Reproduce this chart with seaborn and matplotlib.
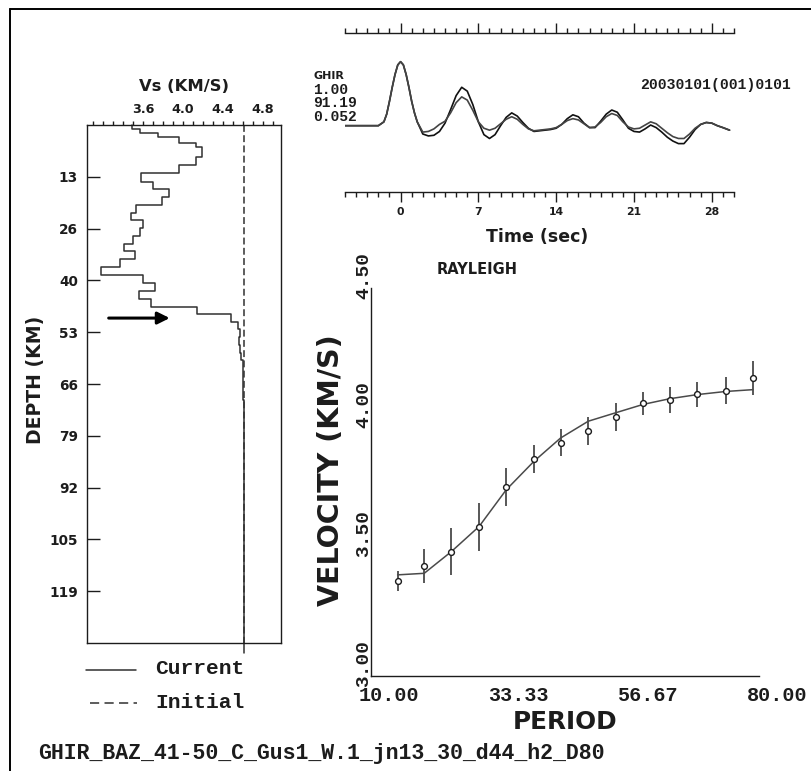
import numpy as np
import pandas as pd
import matplotlib
matplotlib.use("Agg")
import matplotlib.pyplot as plt
import matplotlib.transforms as mtransforms
from matplotlib.lines import Line2D
import seaborn as sns

# ---------------- data ----------------
# Current shear-velocity model: layer tops / bottoms (km) and Vs (km/s)
layer_top = [0.0, 1.1, 2.1, 3.1, 4.7, 5.5, 8.2, 10.2, 12.3, 14.4,
             16.4, 18.3, 20.4, 22.3, 24.2, 26.3, 28.2, 30.2, 32.2, 34.1,
             36.1, 38.1, 40.3, 42.4, 44.4, 46.3, 48.2, 50.1, 52.0, 54.0,
             56.0, 58.0, 60.0, 64.0, 70.0, 82.0]
layer_bottom = layer_top[1:] + [134.5]
vs_current = [3.49, 3.567, 3.75, 3.96, 4.127, 4.194, 4.134, 3.96, 3.584, 3.70,
              3.86, 3.794, 3.534, 3.484, 3.60, 3.567, 3.50, 3.41, 3.52, 3.37,
              3.18, 3.60, 3.717, 3.56, 3.68, 4.14, 4.48, 4.545, 4.57, 4.555,
              4.565, 4.58, 4.595, 4.60, 4.605, 4.61]
# Initial model
init_depth = [0.0, 132.0]
init_vs = [4.61, 4.61]

vs_ticks = [3.6, 4.0, 4.4, 4.8]
vs_tick_labels = ["3.6", "4.0", "4.4", "4.8"]
depth_ticks = [13.2, 26.4, 39.6, 52.8, 66.0, 79.2, 92.4, 105.6, 118.8]
depth_tick_labels = ["13", "26", "40", "53", "66", "79", "92", "105", "119"]

# Waveforms (observed / synthetic), time in s, normalised amplitude
wave_t = [-5, -2.5, -2, -1.5, -1.25, -1, -0.75, -0.5, -0.25, 0, 0.25, 0.5, 0.75, 1,
          1.25, 1.5, 2, 2.5, 3, 3.5, 4, 4.5, 5, 5.5, 6, 6.5, 7, 7.5, 8, 8.5, 9,
          9.5, 10, 10.5, 11, 11.5, 12, 12.5, 13, 13.5, 14, 14.5, 15, 15.5, 16,
          16.5, 17, 17.5, 18, 18.5, 19, 19.5, 20, 20.5, 21, 21.5, 22, 22.5, 23,
          23.5, 24, 24.5, 25, 25.5, 26, 26.5, 27, 27.5, 28, 28.5, 29, 29.6]
wave_obs = [0, 0, 0, 0.06, 0.18, 0.38, 0.60, 0.80, 0.95, 1.0, 0.95, 0.80, 0.60, 0.38,
            0.20, 0.06, -0.13, -0.16, -0.15, -0.09, 0.04, 0.25, 0.47, 0.60, 0.54, 0.33,
            0.06, -0.14, -0.20, -0.14, 0.00, 0.13, 0.20, 0.15, 0.05, -0.04, -0.09,
            -0.08, -0.07, -0.06, -0.04, 0.02, 0.11, 0.17, 0.14, 0.04, -0.03, -0.03,
            0.07, 0.18, 0.245, 0.21, 0.09, -0.04, -0.09, -0.10, -0.05, 0.01, -0.03,
            -0.10, -0.18, -0.24, -0.28, -0.28, -0.18, -0.06, 0.02, 0.05, 0.04, 0.00,
            -0.03, -0.07]
wave_syn = [0, 0, 0, 0.06, 0.18, 0.38, 0.60, 0.80, 0.95, 1.0, 0.95, 0.80, 0.60, 0.38,
            0.20, 0.06, -0.10, -0.09, -0.05, 0.02, 0.07, 0.20, 0.36, 0.45, 0.40, 0.24,
            0.06, -0.04, -0.07, -0.04, 0.03, 0.10, 0.14, 0.10, 0.02, -0.05, -0.08,
            -0.07, -0.06, -0.05, -0.03, 0.02, 0.08, 0.11, 0.09, 0.03, -0.03, -0.02,
            0.05, 0.14, 0.19, 0.16, 0.06, -0.02, -0.05, -0.04, 0.01, 0.06, 0.03,
            -0.04, -0.11, -0.17, -0.20, -0.20, -0.13, -0.04, 0.02, 0.05, 0.04, 0.00,
            -0.03, -0.07]
time_ticks = [0, 7, 14, 21, 28]
time_tick_labels = ["0", "7", "14", "21", "28"]

# Rayleigh-wave dispersion
period = [14.8, 19.6, 24.5, 29.5, 34.4, 39.4, 44.2, 49.2, 54.2, 59.1, 63.9, 68.9, 74.0, 78.9]
vel_obs = [3.367, 3.425, 3.481, 3.575, 3.730, 3.839, 3.902, 3.947, 4.003, 4.054,
           4.067, 4.089, 4.103, 4.151]
vel_err = [0.040, 0.065, 0.090, 0.092, 0.073, 0.054, 0.053, 0.053, 0.054, 0.045,
           0.050, 0.048, 0.052, 0.066]
vel_pred = [3.391, 3.397, 3.481, 3.578, 3.720, 3.830, 3.920, 3.985, 4.018, 4.050,
            4.072, 4.088, 4.100, 4.107]
period_ticks = [10.0, 33.33, 56.67, 80.0]
period_tick_labels = ["10.00", "33.33", "56.67", "80.00"]
vel_ticks = [3.0, 3.5, 4.0, 4.5]
vel_tick_labels = ["3.00", "3.50", "4.00", "4.50"]

station_info = ["GHIR", "1.00", "91.19", "0.052"]
event_id = "20030101(001)0101"
caption = "GHIR_BAZ_41-50_C_Gus1_W.1_jn13_30_d44_h2_D80"

# ---------------- style ----------------
sns.set_style("white")
INK = "#1c1c1c"
plt.rcParams["font.family"] = ["DejaVu Sans"]
plt.rcParams["font.weight"] = "bold"
plt.rcParams["axes.labelweight"] = "bold"
plt.rcParams["axes.edgecolor"] = INK
plt.rcParams["axes.linewidth"] = 1.0
plt.rcParams["xtick.color"] = INK
plt.rcParams["ytick.color"] = INK
plt.rcParams["text.color"] = INK
plt.rcParams["axes.labelcolor"] = INK
MONO = ["Liberation Mono", "DejaVu Sans Mono"]

W, H, DPI = 811, 771, 100
fig = plt.figure(figsize=(W / DPI, H / DPI), dpi=DPI)
fig.patch.set_facecolor("white")


def px_axes(x0, y0, x1, y1):
    return fig.add_axes([x0 / W, 1 - y1 / H, (x1 - x0) / W, (y1 - y0) / H])


def shift(labels, dx_px, dy_px):
    off = mtransforms.ScaledTranslation(dx_px / DPI, dy_px / DPI, fig.dpi_scale_trans)
    for lbl in labels:
        lbl.set_transform(lbl.get_transform() + off)


# ---------------- velocity profile ----------------
ax1 = px_axes(86.5, 125, 281, 643)
prof = pd.DataFrame({
    "vs": np.ravel(np.column_stack([vs_current, vs_current])),
    "depth": np.ravel(np.column_stack([layer_top, layer_bottom])),
})
sns.lineplot(data=prof, x="vs", y="depth", sort=False, estimator=None, ax=ax1,
             color="#303030", lw=1.1, clip_on=False)
init = pd.DataFrame({"vs": init_vs, "depth": init_depth})
sns.lineplot(data=init, x="vs", y="depth", sort=False, estimator=None, ax=ax1,
             color="#303030", lw=1.1, linestyle=(0, (4.5, 2.2)))
ax1.set_xlim(3.035, 4.98)
ax1.set_ylim(132, 0)
ax1.xaxis.tick_top()
ax1.set_xticks(vs_ticks)
ax1.set_xticklabels(vs_tick_labels)
ax1.set_xticks(np.arange(3.1, 4.95, 0.1), minor=True)
ax1.tick_params(axis="x", which="both", direction="out", top=True, bottom=False,
                labeltop=True, labelbottom=False, width=1)
ax1.tick_params(axis="x", which="major", length=3.2, pad=3.2, labelsize=9.2)
ax1.tick_params(axis="x", which="minor", length=2.6)
ax1.set_yticks(depth_ticks)
ax1.set_yticklabels(depth_tick_labels)
ax1.tick_params(axis="y", direction="in", length=9.5, width=1, pad=6, labelsize=9.8,
                left=True, right=False)
ax1.set_xlabel("Vs (KM/S)", fontsize=11.8, va="center", weight="bold")
ax1.xaxis.set_label_position("top")
ax1.xaxis.set_label_coords(0.5, 1 + (125 - 91) / 518)
ax1.set_ylabel("DEPTH (KM)", fontsize=13.6, va="center", weight="bold")
ax1.yaxis.set_label_coords((35 - 86.5) / 194.5, 1 - (380 - 125) / 518)
# arrow marking Moho
ARROW_DEPTH, ARROW_X0, ARROW_X1 = 49.2, 3.257, 3.867
ax1.annotate("", xy=(ARROW_X1, ARROW_DEPTH), xytext=(ARROW_X0, ARROW_DEPTH),
             arrowprops=dict(arrowstyle="-|>,head_length=0.9,head_width=0.45",
                             lw=2.2, color="black", shrinkA=0, shrinkB=0,
                             mutation_scale=8))

# legend (model lines)
fig.add_artist(Line2D([86 / W, 136 / W], [1 - 670 / H] * 2, color="#303030", lw=1.1))
fig.add_artist(Line2D([90 / W, 137 / W], [1 - 703 / H] * 2, color="#303030", lw=1.1,
                      linestyle=(0, (6, 3.5))))
fig.text(155 / W, 1 - 669 / H, "Current", family=MONO, weight="bold", fontsize=15.3,
         ha="left", va="center")
fig.text(155 / W, 1 - 703 / H, "Initial", family=MONO, weight="bold", fontsize=15.3,
         ha="left", va="center")

# ---------------- waveforms ----------------
ax2 = px_axes(345, 33, 734, 192)
sns.lineplot(x=wave_t, y=wave_obs, ax=ax2, color="#111111", lw=1.2, sort=False, estimator=None)
sns.lineplot(x=wave_t, y=wave_syn, ax=ax2, color="#444444", lw=1.2, sort=False, estimator=None)
ax2.set_xlim(-5, 30)
ax2.set_ylim(-1.036, 1.448)
for s in ("left", "right"):
    ax2.spines[s].set_visible(False)
ax2.set_yticks([])
ax2.set_xticks(time_ticks)
ax2.set_xticklabels(time_tick_labels)
ax2.set_xticks(np.arange(-5, 31, 1), minor=True)
ax2.tick_params(axis="x", which="both", direction="out", top=True, bottom=True,
                labeltop=False, width=1)
ax2.tick_params(axis="x", which="major", length=7.5, pad=3, labelsize=7.8)
ax2.tick_params(axis="x", which="minor", length=3.5)
ax2.set_xlabel("Time (sec)", fontsize=12.5, va="center", weight="bold")
ax2.xaxis.set_label_coords((537 - 345) / 389, -(237 - 192) / 159)

for i, (txt, yy) in enumerate(zip(station_info, [76, 90, 103, 117])):
    fig.text(313 / W, 1 - yy / H, txt, family=MONO if i else ["DejaVu Sans"],
             weight="bold", fontsize=8.0 if i == 0 else 10.5, ha="left", va="center")
fig.text(640 / W, 1 - 85 / H, event_id, family=MONO, weight="bold", fontsize=10.6,
         ha="left", va="center")

# ---------------- dispersion ----------------
ax3 = px_axes(371, 288, 759, 676)
err = np.array(vel_err)
obs = np.array(vel_obs)
ax3.vlines(period, obs - err, obs + err, color="#2a2a2a", lw=1.1)
sns.lineplot(x=period, y=vel_pred, ax=ax3, color="#4a4a4a", lw=1.1, sort=False, estimator=None)
ax3.plot(period, vel_obs, linestyle="none", marker="o", ms=4.2, mfc="white",
         mec="#1c1c1c", mew=1.0)
ax3.set_xlim(10, 80)
ax3.set_ylim(3.0, 4.5)
for s in ("top", "right"):
    ax3.spines[s].set_visible(False)
ax3.set_xticks(period_ticks)
ax3.set_xticklabels(period_tick_labels, family=MONO, weight="bold", fontsize=14.5)
ax3.set_yticks(vel_ticks)
ax3.set_yticklabels(vel_tick_labels, family=MONO, weight="bold", fontsize=14,
                    rotation=90, va="center", ha="right")
ax3.tick_params(axis="both", direction="out", length=4.3, width=1)
ax3.tick_params(axis="x", pad=2.8)
ax3.tick_params(axis="y", pad=-5)
ax3.set_xlabel("PERIOD", fontsize=17.8, va="center", weight="bold")
ax3.xaxis.set_label_coords(0.5, -(722 - 676) / 388)
ax3.set_ylabel("VELOCITY (KM/S)", fontsize=20.5, va="center", weight="bold")
ax3.yaxis.set_label_coords((331 - 371) / 388, 1 - (470 - 288) / 388)
ax3.text((477 - 371) / 388, 1 + (288 - 270) / 388, "RAYLEIGH", transform=ax3.transAxes,
         fontsize=10.5, weight="bold", ha="center", va="center")
shift(ax3.get_xticklabels(), 18, 0)
shift(ax3.get_yticklabels(), 0, 13)

# caption and outer frame
fig.text(38 / W, 1 - 754 / H, caption, family=MONO, weight="bold", fontsize=15.5,
         ha="left", va="center")
fig.add_artist(Line2D([10 / W, 1.0], [1 - 9 / H] * 2, color="black", lw=1.4))
fig.add_artist(Line2D([10 / W] * 2, [0.0, 1 - 9 / H], color="black", lw=1.4))

fig.savefig("out.png", dpi=DPI, facecolor="white")
